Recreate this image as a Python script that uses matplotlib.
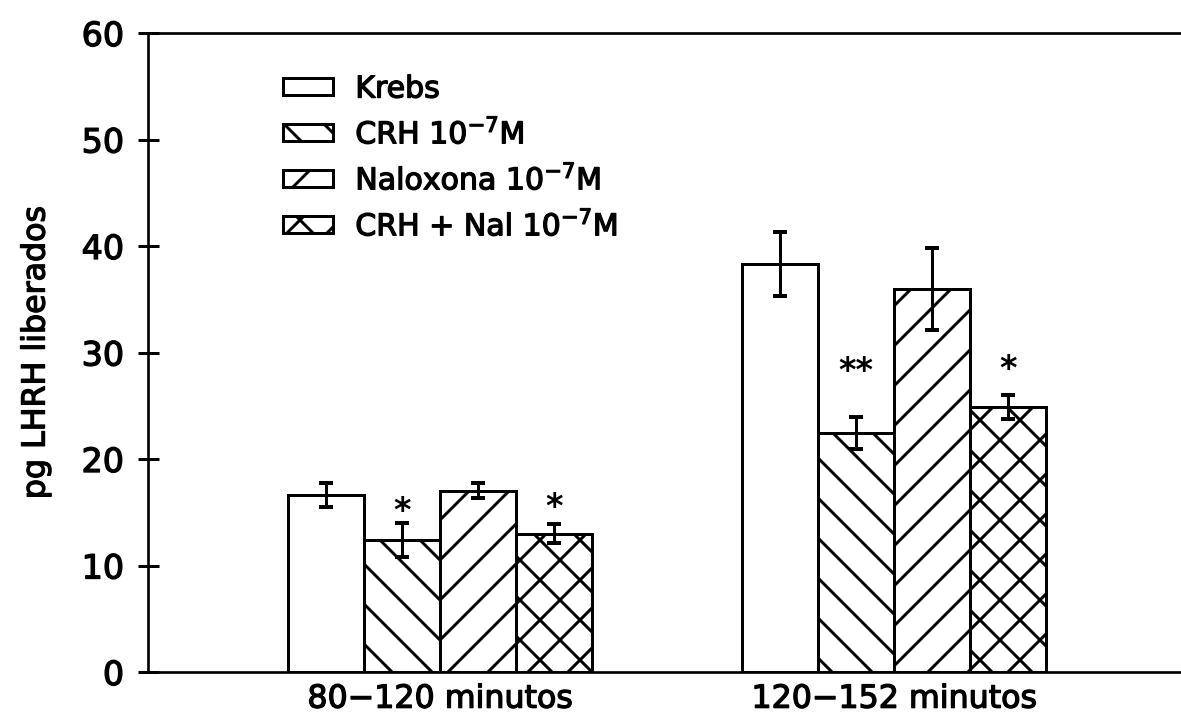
import numpy as np
import matplotlib.pyplot as plt
import matplotlib.patheffects as pe

# LHRH released per period and treatment (mean, sem)
groups = ['80\u2212120 minutos', '120\u2212152 minutos']
series = ['Krebs', 'CRH 10$^{-7}$M', 'Naloxona 10$^{-7}$M', 'CRH + Nal 10$^{-7}$M']

krebs = [16.6, 38.3]
krebs_err = [1.1, 3.0]
crh = [12.4, 22.4]
crh_err = [1.6, 1.5]
nal = [17.0, 36.0]
nal_err = [0.7, 3.85]
crh_nal = [13.0, 24.9]
crh_nal_err = [0.9, 1.1]

crh_sig = ['*', '**']
crh_nal_sig = ['*', '*']

hatches = ['', '\\\\', '//', 'xx']

DPI = 240
plt.rcParams['font.family'] = ['DejaVu Sans']
plt.rcParams['hatch.linewidth'] = 0.9
plt.rcParams['mathtext.fontset'] = 'dejavusans'

# slightly heavier strokes on all text
heavy = [pe.withStroke(linewidth=0.4, foreground='black')]

fig = plt.figure(figsize=(1181 / DPI, 715 / DPI), dpi=DPI)
ax = fig.add_axes([148 / 1181, 43 / 715, 1 - 148 / 1181, 639 / 715])

x = np.arange(len(groups))
w = 0.167
values = [krebs, crh, nal, crh_nal]
errors = [krebs_err, crh_err, nal_err, crh_nal_err]

for i, (vals, errs, name, h) in enumerate(zip(values, errors, series, hatches)):
    pos = x + (i - 1.5) * w
    ax.bar(pos, vals, w, facecolor='white', edgecolor='black', linewidth=0.9,
           hatch=h, label=name, zorder=2)
    ax.errorbar(pos, vals, yerr=errs, fmt='none', ecolor='black',
                elinewidth=0.9, capsize=2.1, capthick=1.2, zorder=3)

# significance marks over CRH and CRH+Nal bars
pads = {1: [1.1, 4.3], 3: [1.5, 2.4]}
for i, marks in ((1, crh_sig), (3, crh_nal_sig)):
    for g, m in enumerate(marks):
        top = values[i][g] + errors[i][g]
        ax.text(x[g] + (i - 1.5) * w, top + pads[i][g], m, ha='center',
                va='center', fontsize=10, fontweight='bold')

ax.set_xlim(-0.643, 1.632)
ax.set_ylim(0, 60)
ax.set_yticks(range(0, 61, 10))
ax.set_xticks(x)
ax.set_xticklabels(groups, fontsize=9.5)
ax.tick_params(axis='x', length=0, pad=3.5)
ax.tick_params(axis='y', direction='inout', length=6.3, width=0.9, pad=4,
               labelsize=10)
ax.set_ylabel('pg LHRH liberados', fontsize=9.5, labelpad=9)

ax.spines['right'].set_visible(False)
for s in ('top', 'left', 'bottom'):
    ax.spines[s].set_linewidth(0.8)

leg = ax.legend(loc='upper left', bbox_to_anchor=(0.131, 0.935), frameon=False,
                fontsize=9, handlelength=1.67, handleheight=0.5,
                handletextpad=0.73, labelspacing=0.45, borderpad=0,
                borderaxespad=0)

for t in (ax.get_xticklabels() + ax.get_yticklabels() + leg.get_texts()
          + [ax.yaxis.label]):
    t.set_path_effects(heavy)

fig.savefig('out.png', dpi=DPI)
